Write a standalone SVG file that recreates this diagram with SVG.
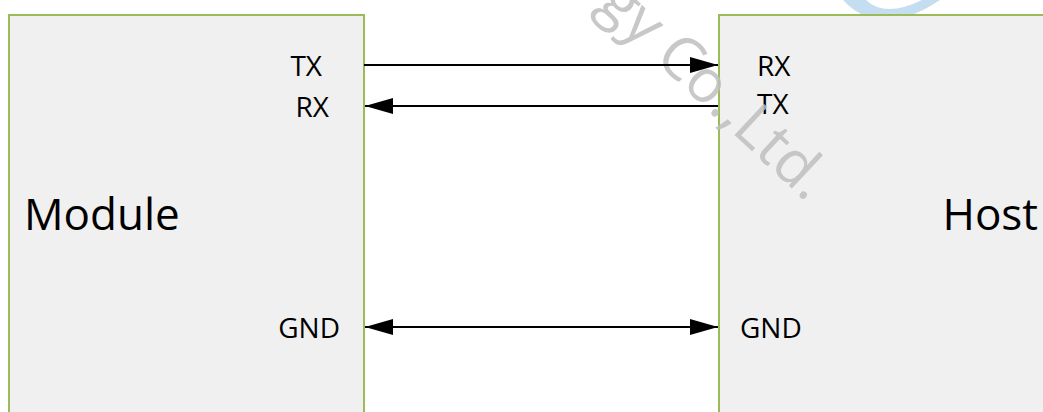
<svg xmlns="http://www.w3.org/2000/svg" width="1043" height="412" viewBox="0 0 1043 412">
  <defs>
    <style>
      .box { fill: #F0F0F0; stroke: #9BBB59; stroke-width: 2; }
      .pin { font-family: "Open Sans", "Liberation Sans", sans-serif; font-size: 28px; fill: #000; }
      .big { font-family: "Open Sans", "Liberation Sans", sans-serif; font-size: 44px; fill: #000; }
      .wire { stroke: #000; stroke-width: 2; fill: none; }
      .wm { font-family: "Open Sans", "Liberation Sans", sans-serif; font-size: 60px; fill: #BFBFBF; opacity: 0.85; }
    </style>
    <marker id="arrow" viewBox="0 0 28 16" refX="28" refY="8" markerWidth="28" markerHeight="16" markerUnits="userSpaceOnUse" orient="auto-start-reverse">
      <path d="M0,0 L28,8 L0,16 Z" fill="#000"/>
    </marker>
  </defs>
  <rect width="1043" height="412" fill="#FFFFFF"/>
  <path d="M843,0 Q880,40 940,0 L922,0 Q885,18 866,0 Z" fill="#C5DDF0"/>
  <g id="module">
    <rect class="box" x="9" y="15" width="355" height="410"/>
    <text class="pin" x="322" y="76" text-anchor="end">TX</text>
    <text class="pin" x="329" y="117" text-anchor="end">RX</text>
    <text class="pin" x="340" y="338" text-anchor="end">GND</text>
    <text class="big" x="24" y="230">Module</text>
  </g>
  <g id="host">
    <rect class="box" x="719" y="15" width="340" height="410"/>
    <text class="pin" x="757" y="76">RX</text>
    <text class="pin" x="757" y="114">TX</text>
    <text class="pin" x="740" y="338">GND</text>
    <text class="big" x="1038" y="230" text-anchor="end">Host</text>
  </g>
  <text class="wm" transform="translate(596,6) rotate(43)">gy Co.,Ltd.</text>
  <g id="connectors">
    <line class="wire" x1="364" y1="65" x2="718" y2="65" marker-end="url(#arrow)"/>
    <line class="wire" x1="718" y1="106" x2="365" y2="106" marker-end="url(#arrow)"/>
    <line class="wire" x1="365" y1="327" x2="718" y2="327" marker-start="url(#arrow)" marker-end="url(#arrow)"/>
  </g>
</svg>
